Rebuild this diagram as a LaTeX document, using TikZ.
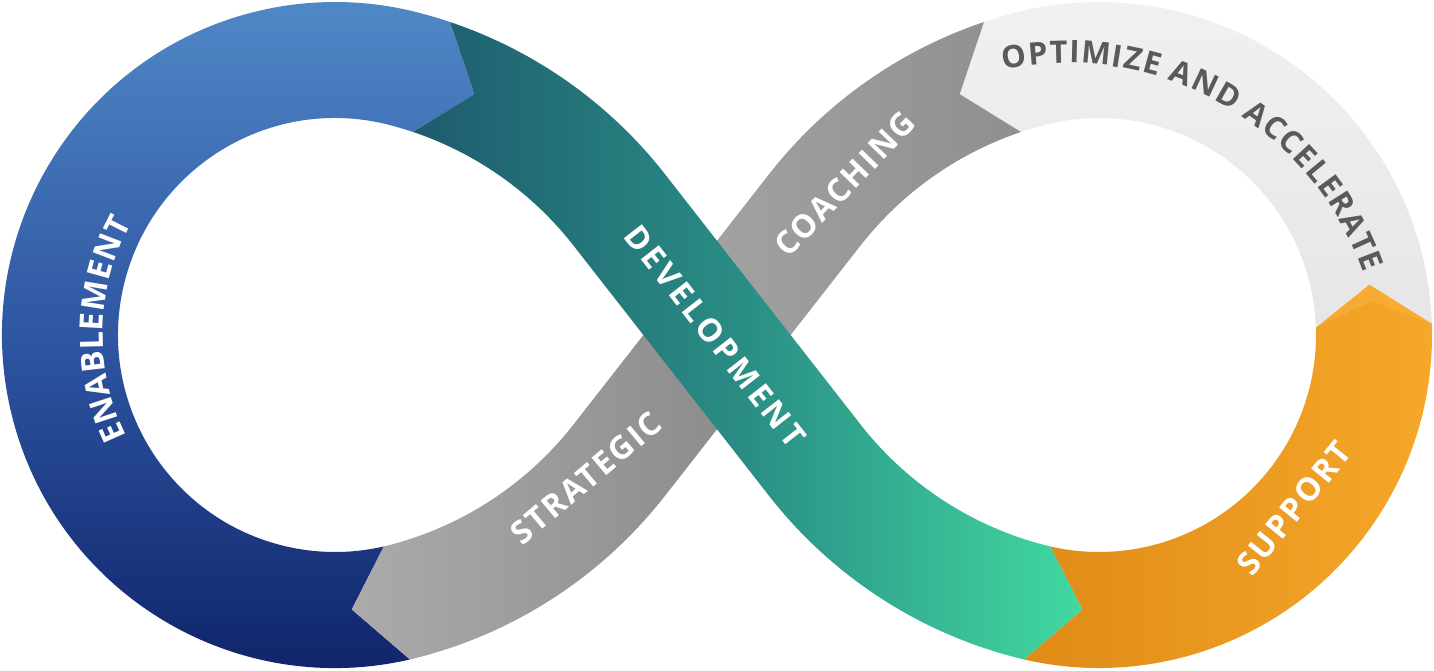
\documentclass[tikz,border=0pt]{standalone}
\usepackage{fontspec}
\newfontfamily\lblfont[LetterSpace=11]{Open Sans}
\newfontfamily\lblfontB[LetterSpace=7]{Open Sans}
\newfontfamily\arcfont{Open Sans}
\usetikzlibrary{calc,decorations.text}
\definecolor{blueA}{HTML}{5088C7}
\definecolor{blueB}{HTML}{2D54A0}
\definecolor{blueC}{HTML}{0D2066}
\definecolor{tealA}{HTML}{1E5B6E}
\definecolor{tealB}{HTML}{2A8E85}
\definecolor{tealC}{HTML}{41D9A1}
\definecolor{grayL}{HTML}{ABABAB}
\definecolor{grayD}{HTML}{878787}
\definecolor{grayU}{HTML}{A6A6A6}
\definecolor{grayT}{HTML}{8B8B8B}
\definecolor{lgA}{HTML}{F1F1F1}
\definecolor{lgB}{HTML}{E6E6E6}
\definecolor{orA}{HTML}{DF8B17}
\definecolor{orB}{HTML}{F6A82A}
\definecolor{orLight}{HTML}{FBB33C}
\definecolor{txtdark}{HTML}{5A5A5A}
\newcommand\lblfmt{\arcfont\bfseries\fontsize{16}{16}\selectfont}
\newcommand\optfmt{\arcfont\bfseries\fontsize{15.5}{15.5}\selectfont}
\tikzset{
  lbl/.style={text=white, inner sep=0pt, font=\lblfont\bfseries\fontsize{16}{16}\selectfont},
  lblb/.style={text=white, inner sep=0pt, font=\lblfontB\bfseries\fontsize{16}{16}\selectfont},
  arctext/.style={decorate, decoration={text along path, text={|\lblfmt|#1}, text color=white, text align={fit to path}}},
}
\begin{document}
\begin{tikzpicture}[x=0.5pt,y=-0.5pt]
\useasboundingbox (0,0) rectangle (1434,670);
\fill[white] (0,0) rectangle (1434,670);
\coordinate (C1) at (335,335);
\coordinate (C2) at (1099,335);
\coordinate (O) at (717,335);
\coordinate (PLT) at ($(C1)+(104.36:125)$);
\coordinate (PLB) at ($(C1)+(-104.36:125)$);
\coordinate (PRT) at ($(C2)+(75.64:125)$);
\coordinate (PRB) at ($(C2)+(-75.64:125)$);
\coordinate (T1) at (1066,379);

% blue : enablement
\shade[top color=blueA, bottom color=blueC, middle color=blueB]
 ($(C1)+(77:333)$) arc[start angle=77, end angle=284.36, radius=333]
 arc[start angle=284.36, end angle=288.6, radius=458]
 -- ($(PLT)+(295.2:400)$) -- ($(PLT)+(288.6:342)$)
 arc[start angle=288.6, end angle=284.36, radius=342]
 arc[start angle=284.36, end angle=77, radius=217]
 -- ($(C1)+(86.5:275)$) -- cycle;

% orange : support
\shade[left color=orA, right color=orB]
 ($(C2)+(103:333)$) arc[start angle=103, end angle=-2, radius=333]
 -- ($(C2)+(-10.6:275)$) -- ($(C2)+(-2:217)$)
 arc[start angle=-2, end angle=103, radius=217]
 -- ($(C2)+(93.5:275)$) -- cycle;
\fill[orLight, opacity=0.5] ($(C2)+(-2:217)$) -- ($(C2)+(-10.6:275)$) -- ($(C2)+(-2:333)$) -- ($(C2)+(-7:275)$) -- cycle;

% light gray : optimize
\shade[top color=lgA, bottom color=lgB]
 ($(C2)+(-2:333)$) arc[start angle=-2, end angle=-104.36, radius=333]
 arc[start angle=255.64, end angle=251.4, radius=458]
 -- ($(PRT)+(244.8:400)$) -- ($(PRT)+(251.4:342)$)
 arc[start angle=251.4, end angle=255.64, radius=342]
 arc[start angle=-104.36, end angle=-2, radius=217]
 -- ($(C2)+(-10.6:275)$) -- cycle;

% gray : strategic / coaching
\begin{scope}
 \clip ($(PRT)+(251.4:458)$) arc[start angle=251.4, end angle=218, radius=458]
 -- ($(PLB)+(38:342)$) arc[start angle=38, end angle=75.64, radius=342]
 arc[start angle=75.64, end angle=77, radius=217]
 -- ($(C1)+(86.5:275)$) -- ($(C1)+(77:333)$)
 arc[start angle=77, end angle=75.64, radius=333]
 arc[start angle=75.64, end angle=38, radius=458]
 -- ($(PRT)+(218:342)$) arc[start angle=218, end angle=251.4, radius=342]
 -- ($(PRT)+(244.8:400)$) -- cycle;
 \begin{scope}
  \clip ($(O)+(218:1000)$) -- ($(O)+(38:1000)$) -- ($(O)+(128:1000)$) -- cycle;
  \shade[left color=grayL, right color=grayD] (350,250) rectangle (790,670);
 \end{scope}
 \begin{scope}
  \clip ($(O)+(218:1000)$) -- ($(O)+(38:1000)$) -- ($(O)+(308:1000)$) -- cycle;
  \shade[left color=grayU, right color=grayT] (640,0) rectangle (1085,420);
 \end{scope}
\end{scope}

% teal : development
\shade[left color=tealA, right color=tealC, middle color=tealB]
 ($(PLT)+(288.6:458)$) arc[start angle=288.6, end angle=322, radius=458]
 -- ($(PRB)+(142:342)$) arc[start angle=142, end angle=104.36, radius=342]
 arc[start angle=104.36, end angle=103, radius=217]
 -- ($(C2)+(93.5:275)$) -- ($(C2)+(103:333)$)
 arc[start angle=103, end angle=104.36, radius=333]
 arc[start angle=104.36, end angle=142, radius=458]
 -- ($(PLT)+(322:342)$) arc[start angle=322, end angle=288.6, radius=342]
 -- ($(PLT)+(295.2:400)$) -- cycle;

% labels
\path[arctext=ENABLEMENT] ($(C1)+(154:232)$) arc[start angle=154, end angle=209, radius=232];
\path[decorate, decoration={text along path, text={|\optfmt|OPTIMIZE AND ACCELERATE}, text color=txtdark, text align={fit to path}}]
 ($(T1)+(258.6:316)$) arc[start angle=258.6, end angle=340.3, radius=316];
\node[lbl, rotate=-52] (dev) at (715,336) {DEVELOPMENT};
\node[lblb, rotate=40] (str) at (586,478) {STRATEGIC};
\node[lblb, rotate=46] (coa) at (845,184) {COACHING};
\node[lblb, rotate=51] (sup) at (1294,508) {SUPPORT};
\end{tikzpicture}
\end{document}
